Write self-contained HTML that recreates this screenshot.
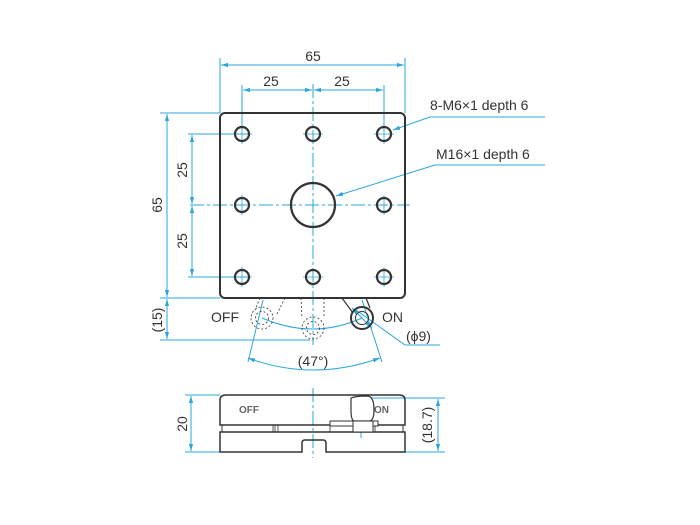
<!DOCTYPE html>
<html><head><style>body{margin:0;background:#fff}svg{display:block}</style></head><body>
<svg width="700" height="525" viewBox="0 0 700 525" xmlns="http://www.w3.org/2000/svg" font-family="Liberation Sans, sans-serif">
<defs>
<marker id="a" viewBox="0 0 10 10" refX="10" refY="5" markerWidth="7" markerHeight="7" orient="auto-start-reverse"><path d="M0,2L10,5L0,8z" fill="#2aa6dc"/></marker>
</defs>
<g stroke="#2aa6dc" stroke-width="1" fill="none">
<line x1="220" y1="58" x2="220" y2="113"/><line x1="405" y1="58" x2="405" y2="113"/>
<line x1="221" y1="65" x2="404" y2="65" marker-start="url(#a)" marker-end="url(#a)"/>
<line x1="242" y1="85" x2="242" y2="130"/><line x1="384" y1="85" x2="384" y2="130"/>
<line x1="243" y1="90" x2="312" y2="90" marker-start="url(#a)" marker-end="url(#a)"/>
<line x1="314" y1="90" x2="383" y2="90" marker-start="url(#a)" marker-end="url(#a)"/>
<line x1="160" y1="113" x2="220" y2="113"/><line x1="160" y1="298" x2="220" y2="298"/>
<line x1="160" y1="340" x2="310" y2="340"/>
<line x1="167" y1="114" x2="167" y2="297" marker-start="url(#a)" marker-end="url(#a)"/>
<line x1="167" y1="299" x2="167" y2="339" marker-start="url(#a)" marker-end="url(#a)"/>
<line x1="188" y1="134" x2="250" y2="134"/><line x1="188" y1="277" x2="250" y2="277"/>
<line x1="192" y1="135" x2="192" y2="204" marker-start="url(#a)" marker-end="url(#a)"/>
<line x1="192" y1="206" x2="192" y2="276" marker-start="url(#a)" marker-end="url(#a)"/>
<line x1="313" y1="84" x2="313" y2="345" stroke-dasharray="14,3,3,3"/>
<line x1="190" y1="205" x2="410" y2="205" stroke-dasharray="14,3,3,3"/>
<g stroke-width="0.8">
<line x1="232" y1="134" x2="252" y2="134"/><line x1="303" y1="134" x2="323" y2="134"/><line x1="374" y1="134" x2="394" y2="134"/>
<line x1="232" y1="277" x2="252" y2="277"/><line x1="303" y1="277" x2="323" y2="277"/><line x1="374" y1="277" x2="394" y2="277"/>
<line x1="242" y1="124" x2="242" y2="144"/><line x1="384" y1="124" x2="384" y2="144"/>
<line x1="242" y1="195" x2="242" y2="215"/><line x1="384" y1="195" x2="384" y2="215"/>
<line x1="242" y1="267" x2="242" y2="287"/><line x1="384" y1="267" x2="384" y2="287"/>
</g>
<polyline points="545,117 430,117 393,130" marker-end="url(#a)"/>
<polyline points="545,165 435,165 336,196" marker-end="url(#a)"/>
<polyline points="440,345 405,345 356,310"/>
<line x1="352" y1="308" x2="372" y2="328" marker-start="url(#a)" marker-end="url(#a)"/>
<line x1="263" y1="300" x2="248" y2="362"/><line x1="362" y1="300" x2="382" y2="362"/>
<path d="M248,358 Q313,382 380,358" marker-start="url(#a)" marker-end="url(#a)"/>
<path d="M262,318 Q313,340 362,318"/>
<line x1="185" y1="395" x2="220" y2="395"/><line x1="185" y1="452" x2="220" y2="452"/>
<line x1="191" y1="396" x2="191" y2="451" marker-start="url(#a)" marker-end="url(#a)"/>
<line x1="370" y1="398" x2="445" y2="398"/><line x1="405" y1="452" x2="445" y2="452"/>
<line x1="438" y1="399" x2="438" y2="451" marker-start="url(#a)" marker-end="url(#a)"/>
<line x1="313" y1="388" x2="313" y2="458" stroke-dasharray="14,3,3,3"/>
<line x1="361" y1="398" x2="361" y2="438" stroke-dasharray="8,3"/>
</g>
<g stroke="#333" fill="none">
<rect x="220" y="113" width="185" height="185" rx="5" stroke-width="2"/>
<g stroke-width="2.2">
<circle cx="242" cy="134" r="7"/><circle cx="313" cy="134" r="7"/><circle cx="384" cy="134" r="7"/>
<circle cx="242" cy="205" r="7"/><circle cx="384" cy="205" r="7"/>
<circle cx="242" cy="277" r="7"/><circle cx="313" cy="277" r="7"/><circle cx="384" cy="277" r="7"/>
<circle cx="313" cy="205" r="22"/>
</g>
<path d="M342,298 L353,313 M366,298 L370,308" stroke-width="1.2"/>
<circle cx="362" cy="318" r="11" stroke-width="2"/>
<circle cx="362" cy="318" r="6.5" stroke-width="1"/>
<g stroke-dasharray="2,2" stroke-width="0.8">
<circle cx="262" cy="318" r="11"/><circle cx="262" cy="318" r="6.5"/>
<circle cx="313" cy="328" r="11"/><circle cx="313" cy="328" r="6.5"/>
<path d="M260,298 L255,310 M285,298 L276,316 M301,298 L302,318 M324,298 L324,318"/>
</g>
<path d="M220,425 L220,400 Q220,395 226,395 L399,395 Q405,395 405,400 L405,425 Z" stroke-width="1.5"/>
<rect x="222" y="425" width="181" height="7" stroke-width="1"/>
<path d="M220,432 L220,452 L302,452 L302,443 Q302,440 305,440 L323,440 Q326,440 326,443 L326,452 L405,452 L405,432 Z" stroke-width="1.5"/>
<path d="M273,425 L273,432 M278,425 L278,432 M275,425 L275,432 M330,425 L330,432 M375,425 L375,432" stroke-width="0.8"/>
<rect x="330" y="421" width="48" height="5" fill="#fff" stroke-width="1"/>
<path d="M351,398 Q356,396 368,396 Q374,397 374,410 Q374,420 370,421 L354,421 Q351,420 351,410 Z" fill="#fff" stroke-width="1.2"/>
<rect x="353" y="421" width="20" height="11" fill="#fff" stroke-width="1"/>
</g>
<g fill="#333" font-size="14">
<text x="313" y="61" text-anchor="middle">65</text>
<text x="271" y="86" text-anchor="middle">25</text>
<text x="342" y="86" text-anchor="middle">25</text>
<text x="430" y="110">8-M6×1 depth 6</text>
<text x="436" y="159">M16×1 depth 6</text>
<text transform="translate(162,205) rotate(-90)" text-anchor="middle">65</text>
<text transform="translate(187,170) rotate(-90)" text-anchor="middle">25</text>
<text transform="translate(187,241) rotate(-90)" text-anchor="middle">25</text>
<text transform="translate(162,320) rotate(-90)" text-anchor="middle">(15)</text>
<text x="211" y="322">OFF</text>
<text x="382" y="322">ON</text>
<text x="406" y="341">(ϕ9)</text>
<text x="313" y="366" text-anchor="middle">(47°)</text>
<text transform="translate(187,424) rotate(-90)" text-anchor="middle">20</text>
<text transform="translate(432,425) rotate(-90)" text-anchor="middle">(18.7)</text>
<text x="239" y="413" font-size="10" fill="#666" font-weight="bold">OFF</text>
<text x="374" y="413" font-size="10" fill="#666" font-weight="bold">ON</text>
</g>
</svg>
</body></html>
